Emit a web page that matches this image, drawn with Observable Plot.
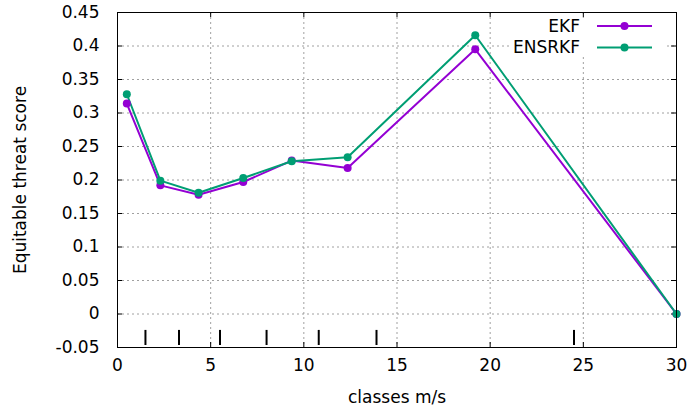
<!DOCTYPE html>
<html>
<head>
<meta charset="utf-8">
<script src="https://cdn.jsdelivr.net/npm/d3@7"></script>
<script src="https://cdn.jsdelivr.net/npm/@observablehq/plot@0.6"></script>
<style>
  body { margin: 0; background: #fff; }
  #chart { position: relative; width: 688px; height: 411px; }
  #legend { position: absolute; left: 0; top: 0; pointer-events: none; }
</style>
</head>
<body>
<div id="chart"></div>
<script>
// Wind-speed classes (m/s) at which the scores were computed
const classes = [0.5, 2.3, 4.35, 6.75, 9.35, 12.35, 19.2, 30];
// Equitable threat score per class
const ekf    = [0.314, 0.192, 0.178, 0.197, 0.229, 0.218, 0.395, 0];
const ensrkf = [0.328, 0.199, 0.181, 0.203, 0.228, 0.234, 0.416, 0];
// Class boundaries marked along the bottom of the plot
const boundaries = [1.5, 3.3, 5.5, 8.0, 10.8, 13.9, 24.5];

const xTicks = [0, 5, 10, 15, 20, 25, 30];
const yTicks = [-0.05, 0, 0.05, 0.1, 0.15, 0.2, 0.25, 0.3, 0.35, 0.4, 0.45];

const seriesNames = ["EKF", "ENSRKF"];
const seriesColors = ["#9400d3", "#009e73"];

const rows = [];
[ekf, ensrkf].forEach((vals, s) => {
  vals.forEach((v, i) => rows.push({series: seriesNames[s], x: classes[i], y: v}));
});

const W = 688, H = 411;
const mL = 117, mR = 12, mT = 12, mB = 64;
const fw = W - mL - mR, fh = H - mT - mB;
const tick = 5;
const font = "DejaVu Sans";
const dotR = 4;

const grid = {stroke: "#a0a0a0", strokeDasharray: "2,3", strokeWidth: 1};

const plot = Plot.plot({
  width: W,
  height: H,
  marginLeft: mL,
  marginRight: mR,
  marginTop: mT,
  marginBottom: mB,
  style: {fontFamily: font, fontSize: "17px", color: "black", background: "white"},
  x: {domain: [0, 30], ticks: xTicks},
  y: {domain: [-0.05, 0.45], ticks: yTicks},
  color: {domain: seriesNames, range: seriesColors},
  marks: [
    // dotted grid
    Plot.ruleX(xTicks.slice(1, -1), {x: d => d, ...grid}),
    Plot.ruleY(yTicks.slice(1, -1), {y: d => d, ...grid}),
    // tick labels
    Plot.axisX({ticks: xTicks, tickSize: 0, tickPadding: 11, label: null, tickFormat: d => String(d)}),
    Plot.axisY({ticks: yTicks, tickSize: 0, tickPadding: 18, label: null, tickFormat: d => String(+d.toFixed(2))}),
    // inward ticks on all four sides
    Plot.tickY(yTicks, {y: d => d, insetRight: fw - tick, stroke: "black"}),
    Plot.tickY(yTicks, {y: d => d, insetLeft: fw - tick, stroke: "black"}),
    Plot.tickX(xTicks, {x: d => d, insetTop: fh - tick, stroke: "black"}),
    Plot.tickX(xTicks, {x: d => d, insetBottom: fh - tick, stroke: "black"}),
    // class boundary markers
    Plot.ruleX(boundaries, {x: d => d, y1: -0.047, y2: -0.0245, stroke: "black", strokeWidth: 2}),
    // series
    Plot.line(rows, {x: "x", y: "y", z: "series", stroke: "series", strokeWidth: 2}),
    Plot.dot(rows, {x: "x", y: "y", fill: "series", r: dotR}),
    Plot.frame({stroke: "black", strokeWidth: 1}),
    // axis titles
    Plot.text(["Equitable threat score"], {frameAnchor: "left", textAnchor: "middle", dx: -97, rotate: -90, fill: "black"}),
    Plot.text(["classes m/s"], {frameAnchor: "bottom", dy: 55, fill: "black"})
  ]
});

const chart = document.getElementById("chart");
chart.appendChild(plot);

// Legend in the upper right corner, on an opaque box that hides the grid
const legend = d3.select(chart).append("svg")
  .attr("id", "legend")
  .attr("width", W)
  .attr("height", H)
  .style("font-family", font)
  .style("font-size", "17px");

legend.append("rect")
  .attr("x", 512).attr("y", 18)
  .attr("width", 153).attr("height", 39)
  .attr("fill", "white");

seriesNames.forEach((name, i) => {
  const cy = 26 + i * 21.5;
  legend.append("text")
    .attr("x", 580)
    .attr("y", cy)
    .attr("dy", "0.35em")
    .attr("text-anchor", "end")
    .attr("fill", "black")
    .text(name);
  legend.append("line")
    .attr("x1", 597).attr("x2", 652)
    .attr("y1", cy).attr("y2", cy)
    .attr("stroke", seriesColors[i])
    .attr("stroke-width", 2);
  legend.append("circle")
    .attr("cx", 624.5).attr("cy", cy)
    .attr("r", dotR)
    .attr("fill", seriesColors[i]);
});
</script>
</body>
</html>
